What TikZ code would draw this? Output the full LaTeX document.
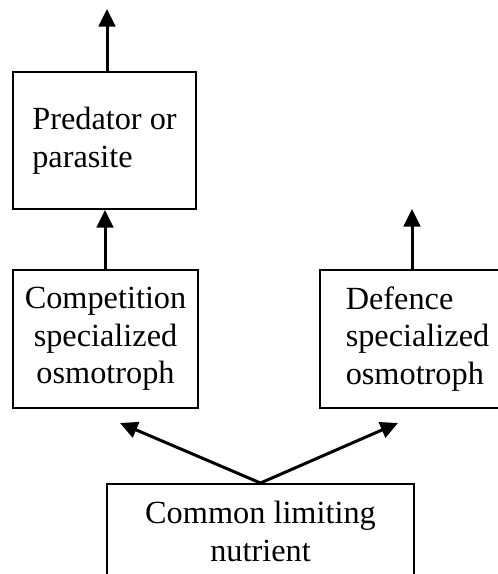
\documentclass[tikz,border=0pt]{standalone}
\usepackage{fontspec}
\setmainfont{Liberation Serif}
\usetikzlibrary{arrows.meta}
\begin{document}
\begin{tikzpicture}[x=1pt,y=-1pt,
  box/.style={draw=black, line width=2pt, rectangle, inner sep=0pt,
    font=\fontsize{32.3}{37.5}\selectfont},
  arr/.style={draw=black, line width=3pt, -{Triangle[length=17.5pt,width=16.5pt]}}]
\clip (0,0) rectangle (498,574);
\fill[white] (0,0) rectangle (498,574);
% boxes
\node[box, align=left, minimum width=183pt, minimum height=137pt] (pred) at (104.5,140.5)
  {Predator or\\parasite};
\node[box, align=center, minimum width=185pt, minimum height=138pt] (comp) at (105.5,339)
  {Competition\\specialized\\osmotroph};
\node[box, align=left, minimum width=195pt, minimum height=138pt, anchor=west] (def) at (319,339)
  {Defence\\specialized\\osmotroph};
\node[box, align=center, minimum width=307pt, minimum height=95pt, anchor=north] (nut) at (260.5,483)
  {Common limiting\\nutrient};
% free ends
\coordinate (ptop) at (107,9);
\coordinate (dtop) at (412,209);
\coordinate (lt) at (120,423);
\coordinate (rt) at (398,423);
% connectors
\draw[arr] (pred.north -| ptop) -- (ptop);
\draw[arr] (comp.north -| 105,0) -- (pred.south -| 105,0);
\draw[arr] (def.north -| dtop) -- (dtop);
\draw[arr] (nut.north) -- (lt);
\draw[arr] (nut.north) -- (rt);
\end{tikzpicture}
\end{document}
